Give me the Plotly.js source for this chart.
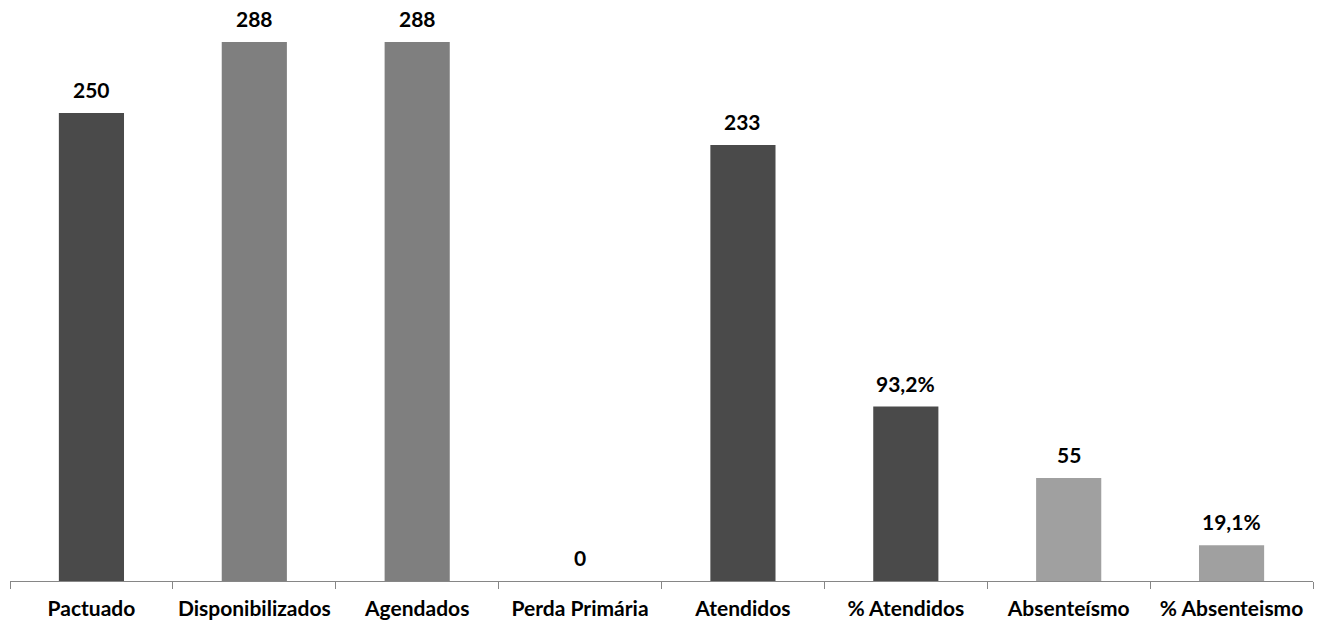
<!DOCTYPE html>
<html>
<head>
<meta charset="utf-8">
<script src="https://cdn.plot.ly/plotly-3.0.1.min.js"></script>
<style>html,body{margin:0;padding:0;background:#fff;}#chart{width:1322px;height:628px;}</style>
</head>
<body>
<div id="chart"></div>
<script>
const categories = ["Pactuado", "Disponibilizados", "Agendados", "Perda Primária", "Atendidos", "% Atendidos", "Absenteísmo", "% Absenteismo"];
const values = [250, 288, 288, 0, 233, 93.2, 55, 19.1];
const labels = ["250", "288", "288", "0", "233", "93,2%", "55", "19,1%"];
const barColors = ["#4a4a4a", "#7f7f7f", "#7f7f7f", "#4a4a4a", "#4a4a4a", "#4a4a4a", "#a0a0a0", "#a0a0a0"];

const fontFamily = "Lato, 'Open Sans', sans-serif";

const trace = {
  type: "bar",
  x: categories,
  y: values,
  marker: {color: barColors, line: {width: 0}},
  width: 0.4,
  hoverinfo: "skip"
};

const annotations = categories.map((c, i) => ({
  x: c, y: values[i], xref: "x", yref: "y",
  text: "<b>" + labels[i] + "</b>",
  showarrow: false, yanchor: "bottom", yshift: 9,
  font: {family: fontFamily, size: 21, color: "#000"}
}));

const layout = {
  width: 1322, height: 628,
  margin: {l: 10, r: 9, t: 0, b: 47},
  paper_bgcolor: "#fff", plot_bgcolor: "#fff",
  showlegend: false,
  bargap: 0.6,
  xaxis: {
    type: "category",
    showline: true, linecolor: "#868686", linewidth: 1,
    ticks: "outside", tickson: "boundaries", ticklen: 7, tickcolor: "#868686", tickwidth: 1,
    showgrid: false, zeroline: false,
    tickfont: {family: fontFamily, size: 21, color: "#000", weight: "bold"},
    ticklabelstandoff: 9
  },
  yaxis: {
    range: [0, 310.4], visible: false, showgrid: false, zeroline: false
  },
  annotations: annotations
};

Plotly.newPlot("chart", [trace], layout, {displayModeBar: false, staticPlot: true});
</script>
</body>
</html>
